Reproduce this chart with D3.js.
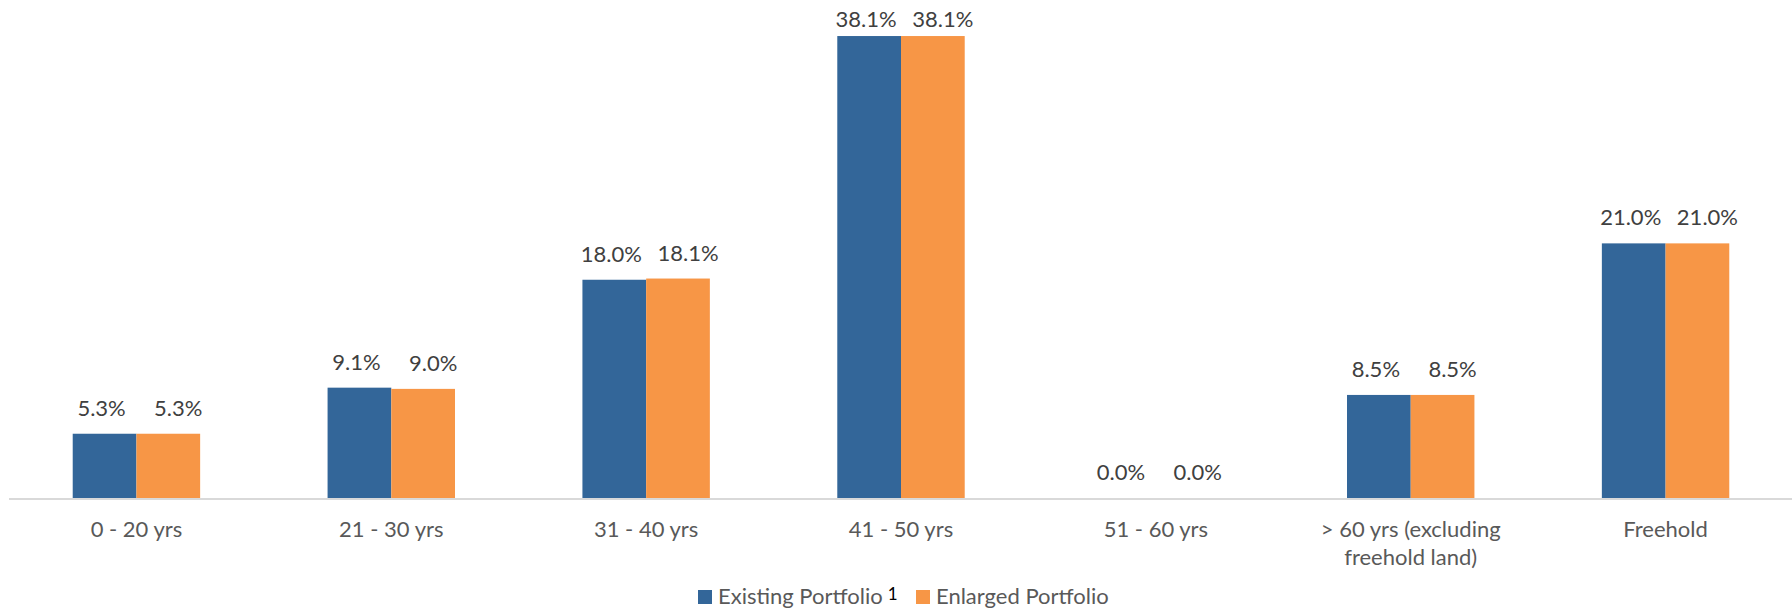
<!DOCTYPE html>
<html>
<head>
<meta charset="utf-8">
<script src="https://cdn.jsdelivr.net/npm/d3@7"></script>
<style>
  body { margin: 0; background: #fff; }
  text { font-family: Lato, "Noto Sans", sans-serif; }
</style>
</head>
<body>
<div id="chart"></div>
<script>
// lease length buckets
var categories = ['0 - 20 yrs', '21 - 30 yrs', '31 - 40 yrs', '41 - 50 yrs', '51 - 60 yrs',
  '> 60 yrs (excluding\nfreehold land)', 'Freehold'];
var existing = [5.3, 9.1, 18.0, 38.1, 0.0, 8.5, 21.0];
var enlarged = [5.3, 9.0, 18.1, 38.1, 0.0, 8.5, 21.0];
var seriesNames = ['Existing Portfolio', 'Enlarged Portfolio'];
var colors = ['#336699', '#F79646'];

var width = 1792, height = 609;

var svg = d3.select('#chart').append('svg')
  .attr('width', width)
  .attr('height', height);

var x = d3.scaleBand()
  .domain(categories)
  .range([9, 1793])
  .paddingInner(0.5)
  .paddingOuter(0.25);

var xSub = d3.scaleBand()
  .domain([0, 1])
  .range([0, x.bandwidth()]);

var y = d3.scaleLinear()
  .domain([0, 40])
  .range([498, 13]);

var rows = [];
categories.forEach(function (c, i) {
  rows.push({ cat: c, s: 0, v: existing[i] });
  rows.push({ cat: c, s: 1, v: enlarged[i] });
});

// bars
svg.selectAll('rect.bar').data(rows)
  .enter().append('rect')
  .attr('class', 'bar')
  .attr('x', function (d) { return x(d.cat) + xSub(d.s); })
  .attr('y', function (d) { return y(d.v); })
  .attr('width', xSub.bandwidth())
  .attr('height', function (d) { return y(0) - y(d.v); })
  .attr('fill', function (d) { return colors[d.s]; });

// value labels
svg.selectAll('text.val').data(rows)
  .enter().append('text')
  .attr('class', 'val')
  .attr('x', function (d) { return x(d.cat) + xSub(d.s) + xSub.bandwidth() / 2 + (d.s ? 10 : -3); })
  .attr('y', function (d) { return Math.max(27, y(d.v) - 18); })
  .attr('text-anchor', 'middle')
  .attr('font-size', 22)
  .attr('fill', '#404040')
  .text(function (d) { return d.v.toFixed(1) + '%'; });

// baseline
svg.append('line')
  .attr('x1', 9).attr('x2', 1792)
  .attr('y1', y(0) + 1).attr('y2', y(0) + 1)
  .attr('stroke', '#d9d9d9')
  .attr('stroke-width', 2);

// category labels
var xAxis = d3.axisBottom(x).tickSize(0).tickPadding(0);
var ax = svg.append('g')
  .attr('transform', 'translate(0,' + y(0) + ')')
  .call(xAxis);
ax.select('.domain').remove();
ax.selectAll('.tick text').remove();
ax.selectAll('.tick').append('text')
  .attr('text-anchor', 'middle')
  .attr('font-size', 22)
  .attr('fill', '#595959')
  .each(function (d) {
    var lines = d.split('\n');
    var t = d3.select(this);
    lines.forEach(function (l, i) {
      t.append('tspan').attr('x', 0).attr('y', 39 + i * 28).text(l);
    });
  });

// legend
var legend = svg.append('g');
var lx = [698, 916];
seriesNames.forEach(function (n, i) {
  legend.append('rect')
    .attr('x', lx[i]).attr('y', 590)
    .attr('width', 14).attr('height', 14)
    .attr('fill', colors[i]);
  var t = legend.append('text')
    .attr('x', lx[i] + 20).attr('y', 604)
    .attr('font-size', 22)
    .attr('fill', '#595959')
    .text(n);
  if (i == 0) {
    var w = t.node().getComputedTextLength();
    legend.append('text')
      .attr('x', lx[i] + 20 + w + 5).attr('y', 600)
      .attr('font-size', 17)
      .attr('fill', '#000')
      .text('1');
  }
});
</script>
</body>
</html>
